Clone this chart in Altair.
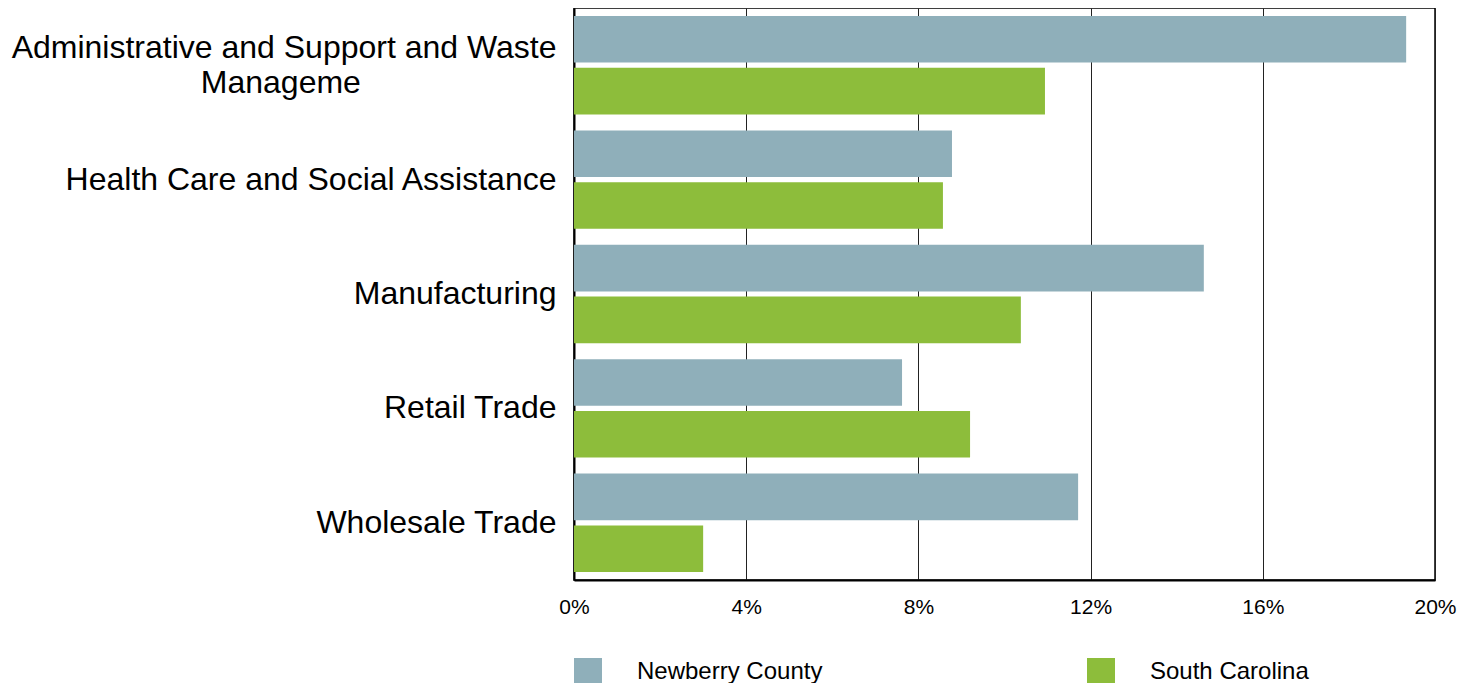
import altair as alt
import pandas as pd

categories = [
    "Administrative and Support and Waste Manageme",
    "Health Care and Social Assistance",
    "Manufacturing",
    "Retail Trade",
    "Wholesale Trade",
]
series = ["Newberry County", "South Carolina"]
newberry = [0.1933, 0.0878, 0.1463, 0.0762, 0.1171]
south_carolina = [0.1094, 0.0857, 0.1038, 0.0920, 0.0300]
x_ticks = [0, 0.04, 0.08, 0.12, 0.16, 0.20]
colors = ["#8FAFBA", "#8DBD3B"]

rows = []
for c, a, b in zip(categories, newberry, south_carolina):
    rows.append({"category": c, "series": series[0], "value": a})
    rows.append({"category": c, "series": series[1], "value": b})
df = pd.DataFrame(rows)

pad = "\u00a0" * 22 + "\u2060"
label_expr = (
    f"datum.value == '{categories[0]}' ? "
    f"['Administrative and Support and Waste', 'Manageme{pad}'] : datum.label"
)

chart = (
    alt.Chart(df)
    .mark_bar()
    .encode(
        y=alt.Y(
            "category:N",
            sort=categories,
            title=None,
            scale=alt.Scale(paddingInner=0.14, paddingOuter=0.07),
            axis=alt.Axis(
                labelExpr=label_expr,
                labelFontSize=32,
                labelColor="#000",
                labelPadding=18,
                labelLineHeight=35,
                labelLimit=700,
                labelOffset={
                    "condition": {
                        "test": f"datum.value == '{categories[0]}'",
                        "value": -17,
                    },
                    "value": 0,
                },
                ticks=False,
                domainColor="#000",
                domainWidth=2,
            ),
        ),
        yOffset=alt.YOffset("series:N", sort=series, scale=alt.Scale(paddingInner=0.1)),
        x=alt.X(
            "value:Q",
            title=None,
            scale=alt.Scale(domain=[0, 0.2], nice=False),
            axis=alt.Axis(
                values=x_ticks,
                format=".0%",
                labelFontSize=21,
                labelColor="#000",
                labelPadding=16,
                ticks=False,
                grid=True,
                gridColor="#222",
                gridWidth=1,
                domainColor="#000",
                domainWidth=2,
                labelFlush=False,
            ),
        ),
        color=alt.Color(
            "series:N",
            sort=series,
            scale=alt.Scale(domain=series, range=colors),
            legend=alt.Legend(
                title=None,
                orient="none",
                legendX=0,
                legendY=650,
                direction="horizontal",
                columns=2,
                columnPadding=264,
                symbolType="square",
                symbolSize=784,
                symbolStrokeWidth=0,
                symbolOpacity=1,
                labelOffset=35,
                labelFontSize=24,
                labelColor="#000",
                labelLimit=600,
                padding=0,
            ),
        ),
    )
    .properties(
        width=861,
        height=572,
        autosize="none",
        padding={"left": 566, "top": 0, "right": 30, "bottom": 103},
    )
    .configure(font="Liberation Sans")
    .configure_view(stroke="#000", strokeWidth=1.5)
)

chart.save("out.html", embed_options={"renderer": "svg", "actions": False})
